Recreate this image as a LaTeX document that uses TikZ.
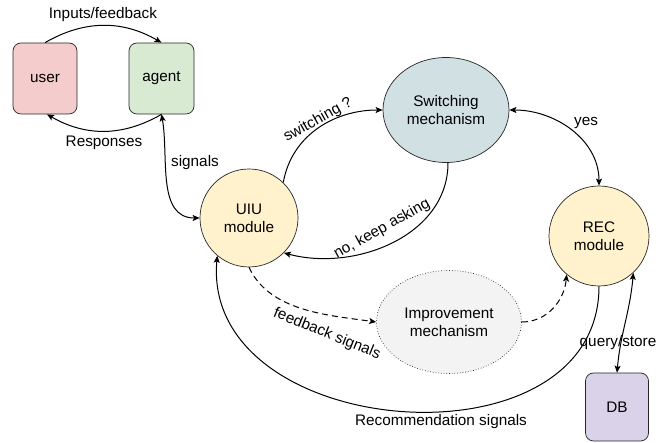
\documentclass[tikz,border=0pt]{standalone}
\usepackage{fontspec}
\setmainfont{Liberation Sans}
\usetikzlibrary{arrows.meta,shapes.geometric}
\definecolor{userpink}{HTML}{F4CCCC}
\definecolor{agentgreen}{HTML}{D9EAD3}
\definecolor{modyellow}{HTML}{FFF2CC}
\definecolor{switchblue}{HTML}{D0E0E3}
\definecolor{improvegray}{HTML}{F3F3F3}
\definecolor{dbpurple}{HTML}{D9D2E9}

\begin{document}
\begin{tikzpicture}[x=1pt,y=1pt,font=\fontsize{15.3}{18}\selectfont,
  >={Stealth[length=7pt,width=6pt,inset=1.5pt]},
  box/.style={draw=black!85,line width=0.7pt,rounded corners=8pt,minimum width=64pt,minimum height=71pt,align=center},
  modul/.style={circle,draw=black!85,line width=0.7pt,fill=modyellow,minimum size=98pt,inner sep=0pt,align=center},
  mech/.style={ellipse,draw=black!85,line width=0.7pt,inner sep=0pt,align=center},
  link/.style={line width=1pt},
  dashlink/.style={link,dash pattern=on 6pt off 4pt}]
\useasboundingbox (0,0) rectangle (672,443);

\node[box,fill=userpink] (user) at (45,364.5) {user};
\node[box,fill=agentgreen,minimum width=65pt] (agent) at (161.5,364.5) {agent};
\node[modul] (uiu) at (249,225) {UIU\\module};
\node[modul,minimum size=100pt] (rec) at (599,207) {REC\\module};
\node[mech,fill=switchblue,minimum width=126pt,minimum height=105pt] (switch) at (446,333) {Switching\\mechanism};
\node[mech,fill=improvegray,dotted,minimum width=145pt,minimum height=103pt] (improve) at (449,121) {Improvement\\mechanism};
\node[box,fill=dbpurple,minimum width=63pt,minimum height=68pt] (db) at (617,36) {DB};

\draw[link,->] (user.north) to[bend left=30] (agent.north);
\draw[link,->] (agent.south) to[bend left=30] ([xshift=2pt]user.south);
\draw[link,<->] (agent.south) to[out=-80,in=180] (uiu.west);
\draw[link,->] (uiu.46) to[out=80,in=180] (switch.west);
\draw[link,->] ([xshift=2pt]switch.south) to[out=-90,in=-15] (uiu.-45);
\draw[link,<->] (switch.east) to[out=0,in=90] (rec.north);
\draw[dashlink,->] (uiu.south) to[out=-65,in=172,looseness=0.9] (improve.west);
\draw[dashlink,->] (improve.east) to[out=0,in=-95] (rec.-130);
\draw[link,->] (rec.south) to[out=-90,in=-95,looseness=1.25] (uiu.-130);
\draw[link,<->] (rec.-47) to[out=-95,in=85] (db.north);

\node (lblinputs) at (103,428) {Inputs/feedback};
\node (lblresp) at (104,300) {Responses};
\node (lblsignals) at (195,280) {signals};
\node[rotate=29] (lblswitch) at (318,323) {switching ?};
\node[rotate=29] (lblnokeep) at (382,214) {no, keep asking};
\node (lblyes) at (586,320) {yes};
\node[rotate=-22] (lblfeedback) at (327,109) {feedback signals};
\node (lblrecom) at (441,21) {Recommendation signals};
\node (lblquery) at (618,100) {query/store};
\end{tikzpicture}
\end{document}
